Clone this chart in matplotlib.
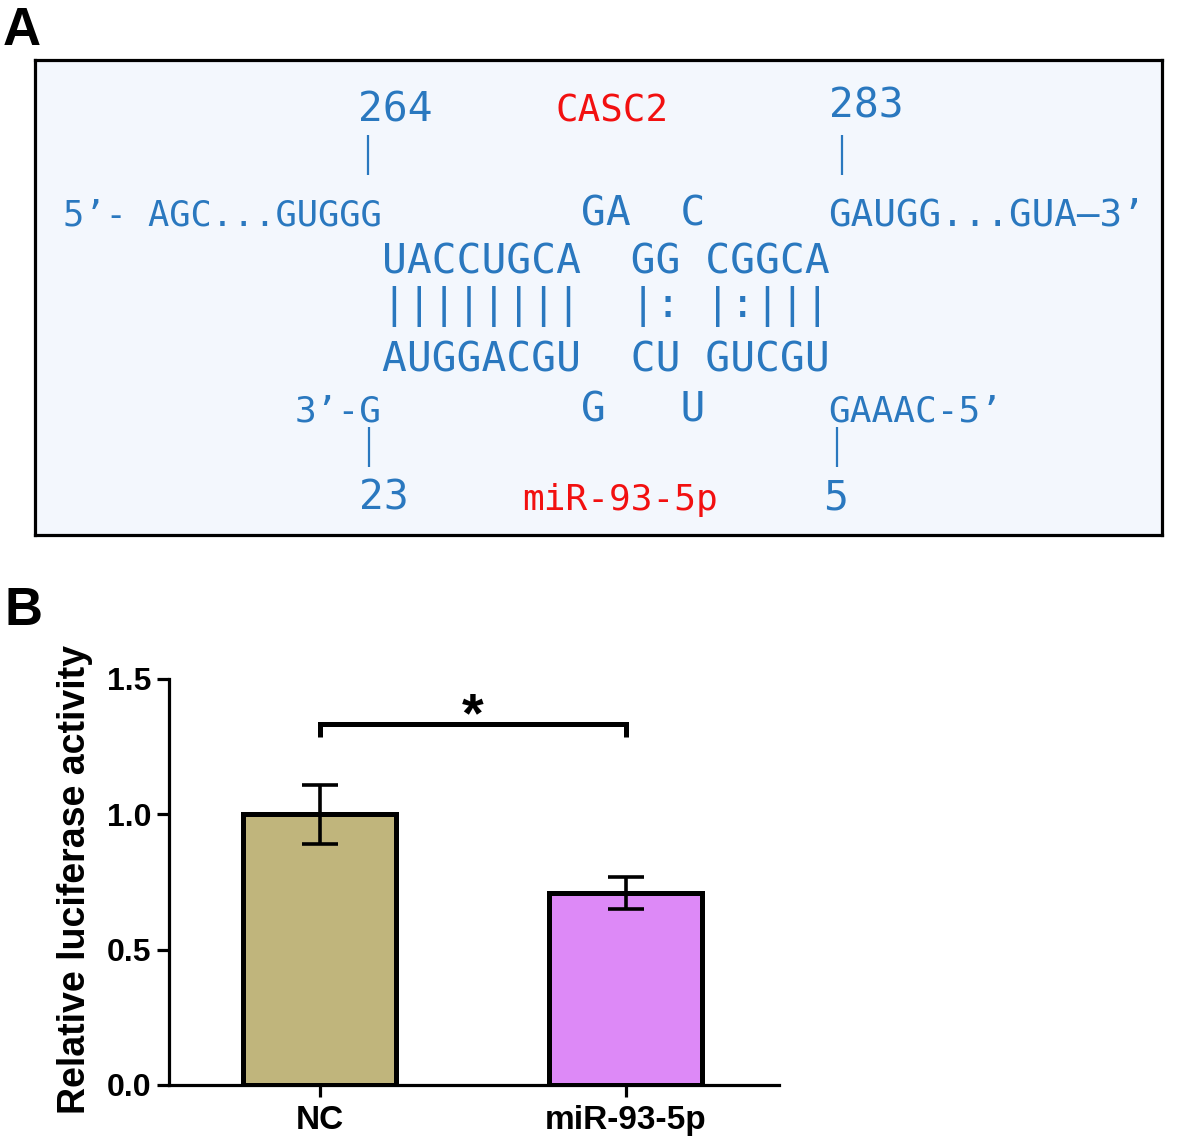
import matplotlib
matplotlib.use('Agg')
import matplotlib.pyplot as plt

# ---- panel B data ----
groups = ['NC', 'miR-93-5p']
activity = [1.0, 0.71]
sem = [0.11, 0.06]
bar_colors = ['#c0b57c', '#dd89f7']
y_ticks = [0.0, 0.5, 1.0, 1.5]
star_text = '*'

# ---- panel A text (binding site) ----
lnc_name = 'CASC2'
mirna_name = 'miR-93-5p'
top_flank_5 = '5’- AGC...GUGGG'
top_loop = '        GA  C'
top_flank_3 = 'GAUGG...GUA–3’'
top_pair = 'UACCUGCA  GG CGGCA'
pair_marks = '||||||||  |: |:|||'
bot_pair = 'AUGGACGU  CU GUCGU'
bot_flank_3 = '3’-G'
bot_loop = '        G   U'
bot_flank_5 = 'GAAAC-5’'
pos_labels = ['264', '283', '23', '5']

W, H = 1181, 1142
blue = '#2a78bf'
red = '#f21010'
mono = 'DejaVu Sans Mono'
plt.rcParams['font.family'] = ['Liberation Sans', 'DejaVu Sans']

fig = plt.figure(figsize=(W / 100, H / 100), dpi=100)

# panel A: box, coordinates in pixels
axA = fig.add_axes([35 / W, 1 - 535 / H, (1162 - 35) / W, (535 - 60) / H])
axA.set_xlim(35, 1162)
axA.set_ylim(535, 60)
axA.set_facecolor('#f3f7fd')
axA.set_xticks([])
axA.set_yticks([])
for s in axA.spines.values():
    s.set_linewidth(2.3)
    s.set_color('black')

x0 = 382
fs = 29.7
kw = dict(family=mono, color=blue, va='baseline')
axA.text(x0, 225, top_flank_5, fontsize=25.5, ha='right', **kw)
axA.text(x0, 225, top_loop, fontsize=fs, ha='left', **kw)
axA.text(828, 225, top_flank_3, fontsize=27, ha='left', **kw)
axA.text(x0, 273, top_pair, fontsize=fs, ha='left', **kw)
axA.text(x0, 317, pair_marks, fontsize=fs, ha='left', **kw)
axA.text(x0, 372, bot_pair, fontsize=fs, ha='left', **kw)
axA.text(x0, 422, bot_flank_3, fontsize=26, ha='right', **kw)
axA.text(x0, 422, bot_loop, fontsize=fs, ha='left', **kw)
axA.text(828, 422, bot_flank_5, fontsize=26, ha='left', **kw)

axA.text(395, 122, pos_labels[0], fontsize=fs, ha='center', **kw)
axA.text(866, 117, pos_labels[1], fontsize=fs, ha='center', **kw)
axA.text(384, 510, pos_labels[2], fontsize=fs, ha='center', **kw)
axA.text(836, 510, pos_labels[3], fontsize=fs, ha='center', **kw)
axA.vlines([368, 842], 135, 175, color=blue, lw=1.6)
axA.vlines([369, 837], 427, 467, color=blue, lw=1.6)

axA.text(612, 121, lnc_name, family=mono, fontsize=27, color=red, ha='center', va='baseline')
axA.text(620, 510, mirna_name, family=mono, fontsize=26, color=red, ha='center', va='baseline')

# panel B: bar chart
axB = fig.add_axes([169 / W, 1 - 1085 / H, (779 - 169) / W, (1085 - 679) / H])
x = list(range(len(groups)))
axB.bar(x, activity, width=0.5, color=bar_colors, edgecolor='black', linewidth=3.6, zorder=2)
axB.errorbar(x, activity, yerr=sem, fmt='none', ecolor='black', elinewidth=2.6,
             capsize=13, capthick=2.6, zorder=3)

bracket_y = 1.333
drop = 0.048
axB.plot([x[0], x[0], x[1], x[1]], [bracket_y - drop, bracket_y, bracket_y, bracket_y - drop],
         color='black', lw=3.6, solid_joinstyle='miter', solid_capstyle='butt', clip_on=False)
axB.text((x[0] + x[1]) / 2, bracket_y + 0.025, star_text, fontsize=40, fontweight='bold',
         ha='center', va='center')

axB.set_xlim(-0.493, 1.5)
axB.set_ylim(0, 1.5)
axB.set_yticks(y_ticks)
axB.set_yticklabels([f'{v:.1f}' for v in y_ticks])
axB.set_xticks(x)
axB.set_xticklabels(groups)
axB.spines['top'].set_visible(False)
axB.spines['right'].set_visible(False)
for s in ['left', 'bottom']:
    axB.spines[s].set_linewidth(2.3)
axB.tick_params(axis='both', direction='out', length=8.5, width=2.3, color='black')
axB.tick_params(axis='y', labelsize=23, pad=4)
axB.tick_params(axis='x', labelsize=24, pad=6)
for lab in axB.get_xticklabels() + axB.get_yticklabels():
    lab.set_fontweight('bold')

fig.text(75 / W, 1 - 880 / H, 'Relative luciferase activity', rotation=90, fontsize=27,
         fontweight='bold', ha='center', va='center')

fig.text(3 / W, 1 - 45 / H, 'A', fontsize=38, fontweight='bold', ha='left', va='baseline')
fig.text(5 / W, 1 - 625 / H, 'B', fontsize=38, fontweight='bold', ha='left', va='baseline')

fig.savefig('out.png', dpi=100)
